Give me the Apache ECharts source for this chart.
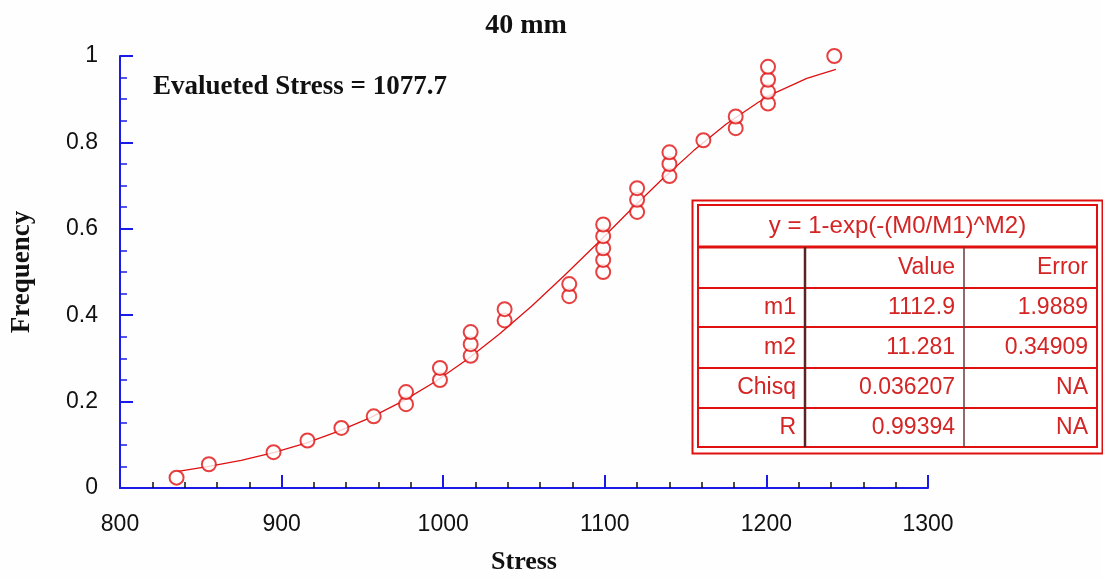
<!DOCTYPE html>
<html>
<head>
<meta charset="utf-8">
<script src="https://cdn.jsdelivr.net/npm/echarts@6/dist/echarts.min.js"></script>
<style>
html,body{margin:0;padding:0;background:#fefefe;}
#chart{width:1103px;height:578px;}
</style>
</head>
<body>
<div id="chart"></div>
<script>
// Observed points (Stress, Frequency)
const stressVals = [835, 855, 895, 916, 937, 957, 977, 977, 998, 998, 1017, 1017, 1017, 1038, 1038, 1078, 1078,
  1099, 1099, 1099, 1099, 1099, 1120, 1120, 1120, 1140, 1140, 1140, 1161, 1181, 1181, 1201, 1201, 1201, 1201, 1242];
const freqVals = [0.024, 0.055, 0.083, 0.110, 0.139, 0.166, 0.194, 0.222, 0.250, 0.278, 0.306, 0.333, 0.361, 0.388, 0.414, 0.444, 0.472,
  0.500, 0.528, 0.555, 0.583, 0.610, 0.639, 0.667, 0.694, 0.722, 0.750, 0.777, 0.805, 0.833, 0.860, 0.890, 0.917, 0.945, 0.975, 1.0];
// Fitted curve
const curveX = [835, 855, 875, 895, 915, 935, 955, 975, 995, 1015, 1035, 1055, 1075, 1095, 1115, 1135, 1155, 1175, 1195, 1205, 1225, 1243];
const curveY = [0.038, 0.050, 0.064, 0.082, 0.104, 0.131, 0.163, 0.201, 0.246, 0.298, 0.357, 0.422, 0.492, 0.565, 0.640, 0.713, 0.781, 0.842, 0.893, 0.914, 0.948, 0.969];
const xTicks = [800, 900, 1000, 1100, 1200, 1300];
const yTicks = [0, 0.2, 0.4, 0.6, 0.8, 1];
const titleText = '40 mm';
const noteText = 'Evalueted Stress = 1077.7';
const tableHeader = 'y = 1-exp(-(M0/M1)^M2)';
const tableCols = ['', 'Value', 'Error'];
const tableRows = [
  ['m1', '1112.9', '1.9889'],
  ['m2', '11.281', '0.34909'],
  ['Chisq', '0.036207', 'NA'],
  ['R', '0.99394', 'NA']
];

const chart = echarts.init(document.getElementById('chart'));
const serif = '"Liberation Serif", "Times New Roman", serif';
const sans = '"Liberation Sans", Arial, sans-serif';
const blue = '#1a1ae6';
const red = '#e01010';
const tRed = '#d42424';

// Table graphic
const colX = [698, 805, 964, 1097];
const rowY = [205, 247, 288, 327, 368, 408, 447];
const tbl = [];
tbl.push({type:'rect', shape:{x:692.5, y:200.5, width:410, height:253}, style:{fill:'#fff', stroke:red, lineWidth:2}});
tbl.push({type:'rect', shape:{x:698, y:205, width:399, height:242}, style:{fill:'none', stroke:red, lineWidth:2}});
for (let i = 1; i < rowY.length - 1; i++) {
  tbl.push({type:'line', shape:{x1:698, y1:rowY[i], x2:1097, y2:rowY[i]}, style:{stroke:red, lineWidth: i === 1 ? 3 : 2}});
}
tbl.push({type:'line', shape:{x1:805, y1:247, x2:805, y2:447}, style:{stroke:'#5a2424', lineWidth:2.5}});
tbl.push({type:'line', shape:{x1:964, y1:247, x2:964, y2:447}, style:{stroke:'#6a3a3a', lineWidth:1.5}});
tbl.push({type:'text', x:(698+1097)/2, y:(rowY[0]+rowY[1])/2, style:{text:tableHeader, fill:tRed, font:'24px ' + sans, textAlign:'center', textVerticalAlign:'middle'}});
const allRows = [tableCols].concat(tableRows);
allRows.forEach((r, ri) => {
  const cy = (rowY[ri+1] + rowY[ri+2]) / 2;
  r.forEach((t, ci) => {
    if (!t) return;
    tbl.push({type:'text', x:colX[ci+1] - 9, y:cy, style:{text:t, fill:tRed, font:'23px ' + sans, textAlign:'right', textVerticalAlign:'middle'}});
  });
});

const option = {
  backgroundColor: '#fefefe',
  animation: false,
  title: {
    text: titleText, left: 521, top: 7, textAlign: 'center',
    textStyle: {fontFamily: serif, fontWeight: 'bold', fontSize: 28, color: '#111'}
  },
  grid: {left: 120, right: 175, top: 56, bottom: 90, containLabel: false, outerBoundsMode: 'none'},
  xAxis: {
    type: 'value', min: 800, max: 1300, interval: 100,
    name: 'Stress', nameLocation: 'middle', nameGap: 61,
    nameTextStyle: {fontFamily: serif, fontWeight: 'bold', fontSize: 26, color: '#111'},
    axisLine: {lineStyle: {color: blue, width: 2}},
    axisTick: {inside: true, length: 13, lineStyle: {color: blue, width: 2}},
    minorTick: {show: true, splitNumber: 5, length: 6, lineStyle: {color: '#111', width: 1.5}},
    splitLine: {show: false},
    axisLabel: {margin: 25, fontFamily: sans, fontSize: 23, color: '#111',
      formatter: v => xTicks.indexOf(v) >= 0 ? String(v) : ''}
  },
  yAxis: {
    type: 'value', min: 0, max: 1, interval: 0.2,
    name: 'Frequency', nameLocation: 'middle', nameGap: 84, nameRotate: 90,
    nameTextStyle: {fontFamily: serif, fontWeight: 'bold', fontSize: 27, color: '#111'},
    axisLine: {show: true, lineStyle: {color: blue, width: 2}},
    axisTick: {show: true, inside: true, length: 13, lineStyle: {color: blue, width: 2}},
    minorTick: {show: true, splitNumber: 4, length: 7, lineStyle: {color: blue, width: 1.5}},
    splitLine: {show: false},
    axisLabel: {margin: 22, fontFamily: sans, fontSize: 23, color: '#111',
      formatter: v => { const y = yTicks.find(t => Math.abs(t - v) < 1e-9); return y === undefined ? '' : String(y); }}
  },
  graphic: [
    {type: 'text', left: 153, top: 74, style: {text: noteText, font: 'bold 27px ' + serif, fill: '#111'}},
    {type: 'group', x: 0, y: 0, children: tbl}
  ],
  series: [
    {
      type: 'line', data: curveX.map((x, i) => [x, curveY[i]]), showSymbol: false, symbol: 'none',
      lineStyle: {color: red, width: 1.3}, z: 2
    },
    {
      type: 'scatter', data: stressVals.map((x, i) => [x, freqVals[i]]), symbol: 'circle', symbolSize: 14,
      itemStyle: {color: '#fff', borderColor: red, borderWidth: 2}, z: 3
    }
  ]
};
chart.setOption(option);
</script>
</body>
</html>
